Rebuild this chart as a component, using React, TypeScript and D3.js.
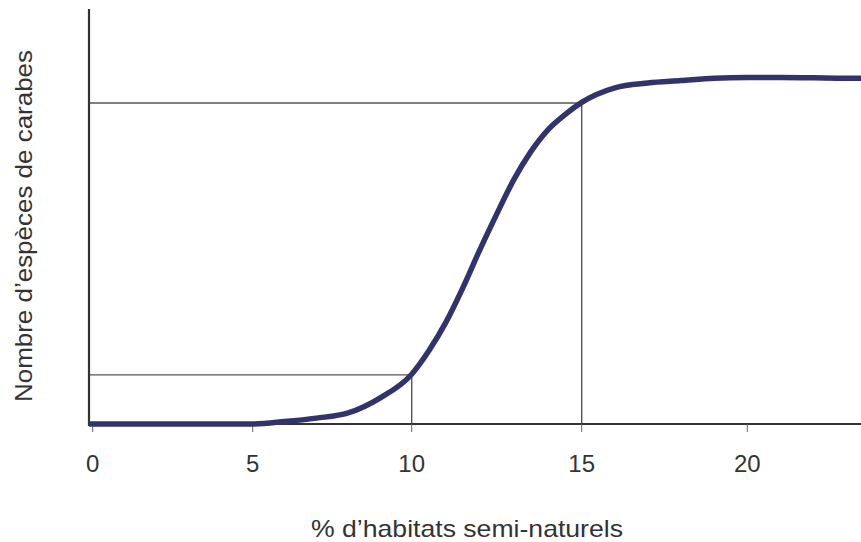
import React from "react";
import * as d3 from "d3";

// Data
const habitatPct = [0, 1, 2, 3, 4, 5, 6, 7, 8, 9, 10, 10.5, 11, 11.5, 12, 12.5, 13, 13.5, 14, 14.5, 15, 16, 17, 18, 19, 20, 21, 22, 23, 23.5];
const speciesCount = [0, 0, 0, 0, 0, 0, 0.7, 1.7, 3.2, 7.5, 14.4, 21.1, 29.3, 39.3, 50.3, 60.7, 70.6, 78.7, 85.0, 89.4, 93.0, 97.2, 98.6, 99.3, 100.0, 100.2, 100.2, 100.1, 100.0, 100.0];
const tickValues = [0, 5, 10, 15, 20];
const refX = [10, 15];
const refY = [14.2, 92.8];
const xTitle = "% d’habitats semi-naturels";
const yTitle = "Nombre d’espèces de carabes";

const W = 861;
const H = 542;

export default function App() {
  // axis is slightly uneven in the reference, so use a piecewise linear scale
  const x = d3.scaleLinear().domain([0, 5, 10, 15, 20, 25]).range([92.7, 252.7, 411.7, 581.7, 747.3, 912.8]);
  const y = d3.scaleLinear().domain([0, 120]).range([424, 9]);
  const axisLeft = 89;
  const pts: [number, number][] = habitatPct.map((v, i) => [v, speciesCount[i]]);
  const line = d3
    .line<[number, number]>()
    .x((d) => (d[0] === 0 ? axisLeft : x(d[0])))
    .y((d) => y(d[1]))
    .curve(d3.curveMonotoneX);
  const font = "'Liberation Sans', Arial, Helvetica, sans-serif";
  return (
    <svg
      width={W}
      height={H}
      style={{ position: "fixed", left: 0, top: 0, background: "#fff" }}
      fontFamily={font}
    >
      {/* reference lines */}
      {refX.map((rx, i) => (
        <g key={i} stroke="#555" strokeWidth={1.4} fill="none">
          <line x1={axisLeft} x2={x(rx)} y1={y(refY[i])} y2={y(refY[i])} />
          <line x1={x(rx)} x2={x(rx)} y1={y(refY[i])} y2={y(0)} />
        </g>
      ))}
      {/* axes */}
      <line x1={axisLeft} x2={axisLeft} y1={9} y2={y(0) + 2} stroke="#333" strokeWidth={2.2} />
      <line x1={axisLeft} x2={W} y1={y(0)} y2={y(0)} stroke="#333" strokeWidth={2} />
      {tickValues.map((t) => (
        <g key={t}>
          <line x1={x(t)} x2={x(t)} y1={y(0)} y2={y(0) + 8} stroke="#666" strokeWidth={1} />
          <text x={x(t)} y={472} textAnchor="middle" fontSize={24} fill="#333">
            {t}
          </text>
        </g>
      ))}
      {/* curve */}
      <path d={line(pts) || ""} fill="none" stroke="#33336b" strokeWidth={5.5} strokeLinejoin="round" />
      {/* titles */}
      <text
        x={467}
        y={537}
        textAnchor="middle"
        fontSize={24}
        fill="#333"
        textLength={312}
        lengthAdjust="spacingAndGlyphs"
      >
        {xTitle}
      </text>
      <text
        transform="translate(32,226) rotate(-90)"
        textAnchor="middle"
        fontSize={24}
        fill="#333"
        textLength={352}
        lengthAdjust="spacingAndGlyphs"
      >
        {yTitle}
      </text>
    </svg>
  );
}
